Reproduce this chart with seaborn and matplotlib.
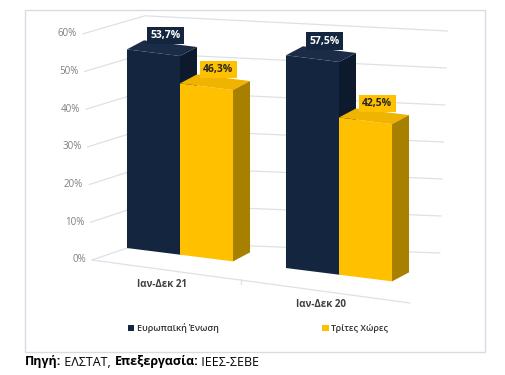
import matplotlib
matplotlib.use('Agg')
import matplotlib.pyplot as plt
from matplotlib.patches import Polygon, Rectangle, Patch
from matplotlib.transforms import Affine2D
import numpy as np
import pandas as pd
import seaborn as sns

# data
periods = ['Ιαν-Δεκ 21', 'Ιαν-Δεκ 20']
series = ['Ευρωπαϊκή Ένωση', 'Τρίτες Χώρες']
eu_share = [53.7, 57.5]
third_share = [46.3, 42.5]
y_ticks = [0, 10, 20, 30, 40, 50, 60]

front_colors = ['#14263F', '#FFC000']
top_colors = ['#1B2C48', '#F0B400']
side_colors = ['#0D1A2E', '#A88000']
label_text_colors = ['white', '#262626']

sns.set_style('white')
plt.rcParams['font.family'] = ['Open Sans', 'DejaVu Sans']

df = pd.DataFrame({
    'period': periods * 2,
    'series': [series[0]] * 2 + [series[1]] * 2,
    'share': eu_share + third_share,
})

fig = plt.figure(figsize=(5.06, 3.75), dpi=100)
ax = fig.add_axes([0, 0, 1, 1])
sns.barplot(data=df, x='period', y='share', hue='series', hue_order=series,
            palette=front_colors, saturation=1, width=0.667, legend=False, ax=ax)

# work in pixel coordinates, bars projected onto a slanted front plane
ax.set_xlim(0, 506)
ax.set_ylim(375, 0)
ax.set_axis_off()

proj = Affine2D(np.array([[159.0, 0.0, 180.0],
                          [20.0, -3.7, 254.7],
                          [0.0, 0.0, 1.0]]))
depth = np.array([17.0, -9.0])

# walls / gridlines
grid_col = '#DCE1E8'
for v in y_ticks:
    fx, fy = 92 - 0.15 * v, 260 - 3.77 * v
    bx, by = 145, 242 - 3.77 * v
    rx, ry = 440 + 0.13 * v, 253 - 3.7 * v
    ax.plot([fx, bx, rx], [fy, by, ry], color=grid_col, lw=0.9, zorder=1)
    ax.text(fx - 6, fy, f'{v}%', ha='right', va='center', fontsize=7,
            color='#7F7F7F')
ax.plot([92, 410], [260, 303], color=grid_col, lw=0.9, zorder=1)

# 3d faces and labels
for k, container in enumerate(ax.containers):
    z = 3 + k
    for bar in container:
        bar.set_transform(proj + ax.transData)
        bar.set_zorder(z)
        bar.set_edgecolor('none')
        x0 = bar.get_x()
        x1 = x0 + bar.get_width()
        h = bar.get_height()
        tl, tr, br = proj.transform([[x0, h], [x1, h], [x1, 0]])
        ax.add_patch(Polygon([tl, tr, tr + depth, tl + depth],
                             closed=True, facecolor=top_colors[k],
                             edgecolor='none', zorder=z))
        ax.add_patch(Polygon([br, tr, tr + depth, br + depth],
                             closed=True, facecolor=side_colors[k],
                             edgecolor='none', zorder=z))
        lx = (tl[0] + tr[0]) / 2 + 0.7 * depth[0]
        ly = (tl[1] + tr[1]) / 2 + depth[1] - 3
        ax.text(lx, ly, f'{h:.1f}%'.replace('.', ','), ha='center',
                va='bottom', fontsize=7.5, fontweight='bold',
                color=label_text_colors[k], zorder=10,
                bbox=dict(boxstyle='square,pad=0.3',
                          facecolor=front_colors[k], edgecolor='none'))

# category labels under the floor
cat_x = []
for i, p in enumerate(periods):
    px, py = proj.transform([i, 0])
    cat_x.append(px - 18)
    ax.text(px - 18, py + 30, p, ha='center', va='center', fontsize=7,
            fontweight='bold', color='#404040')
mid = sum(cat_x) / 2
ax.plot([mid, mid], [279, 284], color=grid_col, lw=0.9, zorder=1)

# frame
ax.add_patch(Rectangle((25, 10), 460, 342, fill=False, edgecolor='#D6DCE4',
                       lw=1, zorder=0))

# legend
handles = [Patch(facecolor=c, edgecolor='none') for c in front_colors]
leg = ax.legend(handles, series, loc='center', ncol=2, frameon=False,
                bbox_to_anchor=(258 / 506, 1 - 328 / 375), fontsize=6.5,
                columnspacing=11.5, handlelength=0.7, handleheight=0.7,
                handletextpad=0.3, labelcolor='#303030')
for t in leg.get_texts():
    t.set_fontweight('semibold')

# source line
t1 = ax.text(25, 362, 'Πηγή:', fontsize=9, fontweight='bold', va='center',
             ha='left', color='black')
t2 = ax.annotate(' ΕΛΣΤΑΤ, ', xy=(1, 0), xycoords=t1, va='bottom',
                 ha='left', fontsize=9, color='black')
t3 = ax.annotate('Επεξεργασία:', xy=(1, 0), xycoords=t2, va='bottom',
                 ha='left', fontsize=9, fontweight='bold', color='black')
ax.annotate(' ΙΕΕΣ-ΣΕΒΕ', xy=(1, 0), xycoords=t3, va='bottom', ha='left',
            fontsize=9, color='black')

fig.savefig('out.png', dpi=100)
